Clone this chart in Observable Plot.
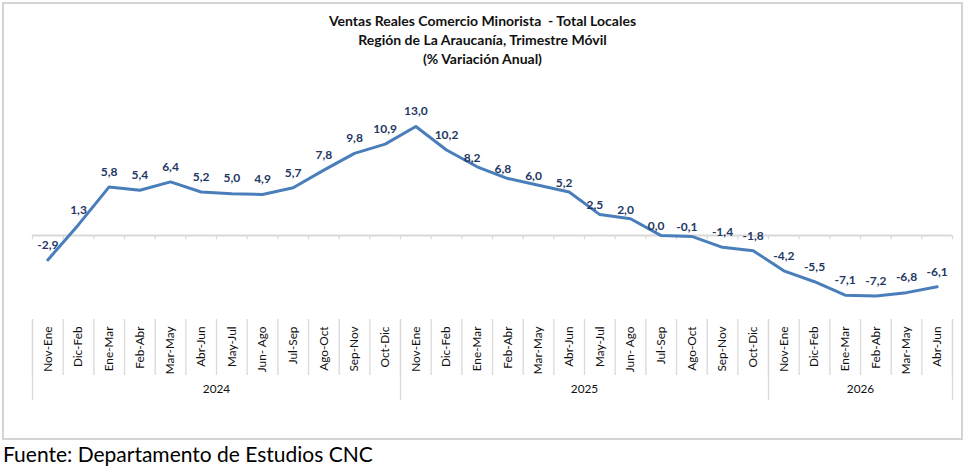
<!DOCTYPE html>
<html>
<head>
<meta charset="utf-8">
<script src="https://cdn.jsdelivr.net/npm/d3@7"></script>
<script src="https://cdn.jsdelivr.net/npm/@observablehq/plot@0.6"></script>
<style>
  html, body { margin: 0; padding: 0; background: #fff; }
  body { width: 965px; height: 470px; position: relative; overflow: hidden; font-family: Lato, "Noto Sans", sans-serif; }
  #box { position: absolute; left: 2px; top: 2px; width: 957px; height: 434px; border: 2px solid #d4d4d4; }
  #title { position: absolute; left: 0; top: 11px; width: 965px; text-align: center; font-weight: bold; font-size: 14px; line-height: 19px; color: #111; }
  #chart { position: absolute; left: 0; top: 0; }
  #source { position: absolute; left: 3px; top: 441px; font-size: 21px; color: #000; white-space: nowrap; }
</style>
</head>
<body>
<div id="box"></div>
<div id="chart"></div>
<div id="title">Ventas Reales Comercio Minorista&nbsp; - Total Locales<br>Región de La Araucanía, Trimestre Móvil<br>(% Variación Anual)</div>
<div id="source">Fuente: Departamento de Estudios CNC</div>
<script>
// ---- data ----
const periods2024 = ["Nov-Ene","Dic-Feb","Ene-Mar","Feb-Abr","Mar-May","Abr-Jun","May-Jul","Jun- Ago","Jul-Sep","Ago-Oct","Sep-Nov","Oct-Dic"];
const periods2025 = ["Nov-Ene","Dic-Feb","Ene-Mar","Feb-Abr","Mar-May","Abr-Jun","May-Jul","Jun- Ago","Jul-Sep","Ago-Oct","Sep-Nov","Oct-Dic"];
const periods2026 = ["Nov-Ene","Dic-Feb","Ene-Mar","Feb-Abr","Mar-May","Abr-Jun"];
const values2024 = [-2.9, 1.3, 5.8, 5.4, 6.4, 5.2, 5.0, 4.9, 5.7, 7.8, 9.8, 10.9];
const values2025 = [13.0, 10.2, 8.2, 6.8, 6.0, 5.2, 2.5, 2.0, 0.0, -0.1, -1.4, -1.8];
const values2026 = [-4.2, -5.5, -7.1, -7.2, -6.8, -6.1];
const years = ["2024", "2025", "2026"];

// ---- build table ----
const groups = [
  {year: years[0], periods: periods2024, values: values2024},
  {year: years[1], periods: periods2025, values: values2025},
  {year: years[2], periods: periods2026, values: values2026}
];
const data = [];
const yearSpans = [];
groups.forEach(g => {
  const start = data.length;
  g.periods.forEach((p, k) => data.push({i: data.length, period: p, value: g.values[k], year: g.year}));
  yearSpans.push({year: g.year, start, end: data.length - 1, center: (start + data.length - 1) / 2});
});
const n = data.length;
const fmt = v => v.toFixed(1).replace(".", ",");
const separators = d3.range(n + 1).map(k => k - 0.5);
const yearBounds = [-0.5, ...yearSpans.map(s => s.end + 0.5)];
const shifted = d => d.i >= 14 && d.i <= 21; // labels Excel nudged left/down

const navy = "#1f3864";
const lineColor = "#4a7ebb";
const grid = "#d9d9d9";

const chart = Plot.plot({
  width: 965,
  height: 440,
  marginLeft: 32,
  marginRight: 13,
  marginTop: 126,
  marginBottom: 121,
  style: {fontFamily: "Lato, 'Noto Sans', sans-serif", background: "transparent", overflow: "visible"},
  x: {type: "linear", domain: [-0.5, n - 0.5], axis: null},
  y: {domain: [-10, 13], axis: null},
  marks: [
    Plot.ruleY([0], {stroke: grid, strokeWidth: 2}),
    Plot.ruleX(separators, {x: d => d, y1: 0, y2: -0.5, stroke: grid, strokeWidth: 1.3}),
    Plot.axisX({ticks: separators, tickSize: 56, tickFormat: () => "", stroke: grid, strokeWidth: 1.3, label: null}),
    Plot.axisX({ticks: yearBounds, tickSize: 81, tickFormat: () => "", stroke: grid, strokeWidth: 1.3, label: null}),
    Plot.axisX({ticks: data.map(d => d.i), tickSize: 0, tickPadding: 7, tickRotate: -90,
      tickFormat: i => data[i].period, fontSize: 11.8, fill: "#111", label: null}),
    Plot.text(yearSpans, {x: "center", text: "year", frameAnchor: "bottom", dy: 73, fontSize: 11.8, fill: "#111"}),
    Plot.line(data, {x: "i", y: "value", stroke: lineColor, strokeWidth: 3, strokeLinejoin: "round"}),
    Plot.text(data.filter(d => !shifted(d)), {x: "i", y: "value", text: d => fmt(d.value), dy: -15,
      fill: navy, fontSize: 12, fontWeight: "bold"}),
    Plot.text(data.filter(shifted), {x: "i", y: "value", text: d => fmt(d.value), dy: -9, dx: -5,
      fill: navy, fontSize: 12, fontWeight: "bold"})
  ]
});
document.getElementById("chart").appendChild(chart);
</script>
</body>
</html>
